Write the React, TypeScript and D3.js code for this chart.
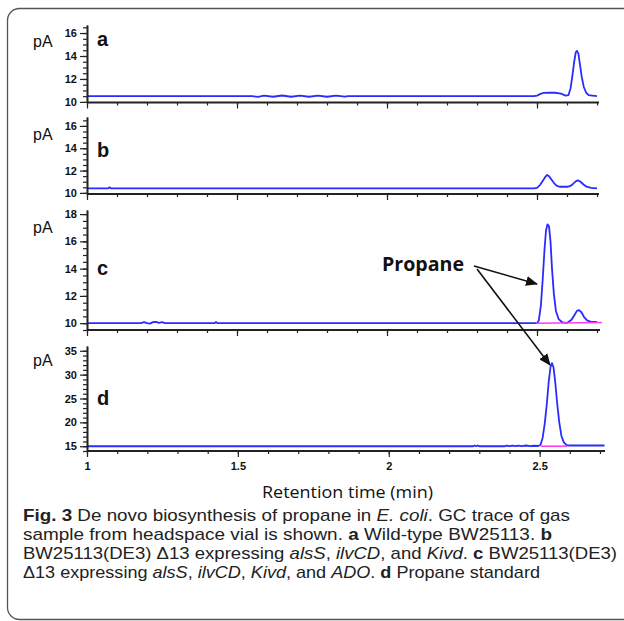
import React, { useRef, useEffect } from 'react';
import * as d3 from 'd3';

type Pt = [number, number];

// --------------------------------------------------------
// traces: [retention time (min), signal (pA)]
// --------------------------------------------------------
const traceA: Pt[] = [
  [1.0, 10.5], [1.55, 10.5], [1.57, 10.44], [1.59, 10.55], [1.62, 10.45], [1.65, 10.56],
  [1.68, 10.45], [1.71, 10.55], [1.74, 10.45], [1.77, 10.55], [1.8, 10.45], [1.83, 10.55],
  [1.86, 10.47], [1.87, 10.5], [2.49, 10.5], [2.5, 10.55], [2.51, 10.68], [2.52, 10.78],
  [2.54, 10.8], [2.56, 10.8], [2.58, 10.72], [2.595, 10.55], [2.605, 10.6], [2.612, 11.2],
  [2.618, 12.3], [2.624, 13.5], [2.629, 14.3], [2.633, 14.45], [2.638, 14.2], [2.643, 13.3],
  [2.649, 12.2], [2.656, 11.3], [2.664, 10.8], [2.672, 10.6], [2.685, 10.55], [2.7, 10.5]
];

const traceB: Pt[] = [
  [1.0, 10.4], [1.07, 10.4], [1.075, 10.5], [1.08, 10.4], [2.49, 10.4], [2.5, 10.45],
  [2.51, 10.7], [2.52, 11.1], [2.528, 11.45], [2.534, 11.6], [2.54, 11.5], [2.548, 11.2],
  [2.556, 10.9], [2.565, 10.65], [2.575, 10.55], [2.6, 10.55], [2.61, 10.6], [2.62, 10.8],
  [2.63, 11.05], [2.637, 11.12], [2.645, 11.0], [2.655, 10.75], [2.665, 10.55], [2.68, 10.45],
  [2.7, 10.4]
];

const traceC: Pt[] = [
  [1.0, 10.0], [1.18, 10.0], [1.19, 10.08], [1.2, 10.0], [1.21, 9.97], [1.22, 10.08],
  [1.23, 10.1], [1.24, 10.02], [1.25, 10.08], [1.26, 10.0], [1.425, 10.0], [1.43, 10.08],
  [1.435, 10.0], [2.5, 10.0], [2.506, 10.2], [2.513, 11.3], [2.519, 13.2], [2.525, 15.4],
  [2.53, 16.8], [2.535, 17.25], [2.54, 17.1], [2.545, 16.0], [2.55, 14.0], [2.556, 12.2],
  [2.563, 10.9], [2.572, 10.3], [2.585, 10.05], [2.6, 10.02], [2.615, 10.25], [2.625, 10.6],
  [2.633, 10.9], [2.64, 10.96], [2.648, 10.8], [2.657, 10.45], [2.667, 10.2], [2.68, 10.1],
  [2.7, 10.1]
];

const traceD: Pt[] = [
  [1.0, 15.0], [2.28, 15.0], [2.285, 15.15], [2.29, 15.0], [2.295, 15.15], [2.3, 15.0],
  [2.385, 15.0], [2.39, 15.15], [2.4, 15.0], [2.41, 15.15], [2.42, 15.0], [2.43, 15.15],
  [2.44, 15.0], [2.455, 15.15], [2.47, 15.0], [2.48, 15.1], [2.495, 15.05], [2.503, 15.3],
  [2.51, 16.8], [2.517, 19.8], [2.524, 24.0], [2.53, 28.5], [2.536, 31.6], [2.541, 32.4],
  [2.546, 31.5], [2.552, 28.2], [2.558, 24.0], [2.565, 20.0], [2.572, 17.2], [2.58, 15.8],
  [2.59, 15.2], [2.6, 15.15], [2.715, 15.15]
];

// magenta integration baselines under the propane peaks
const baselineC: Pt[] = [[2.497, 10.0], [2.717, 10.05]];
const baselineD: Pt[] = [[2.503, 15.0], [2.59, 15.0]];

const yTicksA = [10, 12, 14, 16];
const yTicksB = [10, 12, 14, 16];
const yTicksC = [10, 12, 14, 16, 18];
const yTicksD = [15, 20, 25, 30, 35];
const xTicks = [1, 1.5, 2, 2.5];
const xTickLabels = ['1', '1.5', '2', '2.5'];

// --------------------------------------------------------
// layout of the four stacked panels (pixel positions)
// --------------------------------------------------------
const panels = [
  { name: 'a', trace: traceA, base: null, yTicks: yTicksA, yStep: 0.5,
    yDomain: [9.95, 16.7], yRange: [102.5, 25], xEnd: 597, axisEnd: 599, pAy: 47, letterY: 46 },
  { name: 'b', trace: traceB, base: null, yTicks: yTicksB, yStep: 0.5,
    yDomain: [9.9, 16.8], yRange: [194, 117], xEnd: 597, axisEnd: 599, pAy: 140, letterY: 157 },
  { name: 'c', trace: traceC, base: baselineC, yTicks: yTicksC, yStep: 0.5,
    yDomain: [9.5, 18.3], yRange: [330, 210], xEnd: 597, axisEnd: 600, pAy: 233, letterY: 275 },
  { name: 'd', trace: traceD, base: baselineD, yTicks: yTicksD, yStep: 1,
    yDomain: [14, 36], yRange: [451, 346], xEnd: 600, axisEnd: 605, pAy: 366, letterY: 405 }
];

const AXIS = '#222';
const BLUE = '#2b2bff';
const PINK = '#ff3cf0';
const SANS = '"Liberation Sans", Arial, sans-serif';
const LABEL = '"Open Sans", "Noto Sans", sans-serif';

function Panel({ p, last }) {
  const yRef = useRef(null);
  const xRef = useRef(null);

  const x = d3.scaleLinear([1, 2.7], [87, p.xEnd]);
  const y = d3.scaleLinear(p.yDomain, p.yRange);
  const line = d3.line<Pt>().x(d => x(d[0])).y(d => y(d[1]));

  useEffect(() => {
    const minorY = d3.range(Math.ceil(p.yDomain[0] / p.yStep) * p.yStep, p.yDomain[1], p.yStep);
    const gy = d3.select(yRef.current);
    gy.selectAll('*').remove();
    gy.append('g')
      .call(d3.axisLeft(y).tickValues(minorY).tickSize(4).tickSizeOuter(0).tickFormat(() => ''));
    gy.append('g')
      .call(d3.axisLeft(y).tickValues(p.yTicks).tickSize(7).tickPadding(3).tickSizeOuter(0)
        .tickFormat(d3.format('d')));

    const gx = d3.select(xRef.current);
    gx.selectAll('*').remove();
    gx.append('g')
      .call(d3.axisBottom(x).tickValues(d3.range(1, 2.71, 0.1)).tickSize(3).tickFormat(() => ''));
    gx.append('g')
      .call(d3.axisBottom(x).tickValues(xTicks).tickSize(6).tickPadding(5)
        .tickFormat((d, i) => (last ? xTickLabels[i] : '')));
    gx.selectAll('.domain').remove();
    if (!last) gx.selectAll('.tick text').remove();

    [gy, gx].forEach(g => {
      g.selectAll('.domain').attr('stroke', AXIS).attr('stroke-width', 1.6);
      g.selectAll('.tick line').attr('stroke', AXIS).attr('stroke-width', 1.2);
      g.selectAll('.tick text')
        .attr('fill', '#111')
        .style('font-family', SANS)
        .style('font-size', '11px')
        .style('font-weight', 'bold');
    });
  });

  const y0 = p.yRange[0];
  return (
    <g>
      <path d={line(p.trace)} fill="none" stroke={BLUE} strokeWidth={1.8} strokeLinejoin="round" />
      {p.base && <path d={line(p.base)} fill="none" stroke={PINK} strokeWidth={1.6} />}
      <line x1={87} x2={p.axisEnd} y1={y0} y2={y0} stroke={AXIS} strokeWidth={1.8} />
      <g ref={yRef} transform="translate(87,0)" />
      <g ref={xRef} transform={`translate(0,${y0})`} />
      <text x={33} y={p.pAy} fontFamily={SANS} fontSize={16} fill="#111">pA</text>
      <text x={97} y={p.letterY} fontFamily={SANS} fontSize={20} fontWeight="bold" fill="#111">{p.name}</text>
    </g>
  );
}

export default function App() {
  return (
    <svg width={624} height={621} style={{ position: 'absolute', left: 0, top: 0, background: '#fff' }}>
      <defs>
        <marker id="arr" viewBox="0 0 12 10" refX="11" refY="5" markerWidth="12" markerHeight="10"
          markerUnits="userSpaceOnUse" orient="auto">
          <path d="M0,0 L12,5 L0,10 Z" fill="#111" />
        </marker>
      </defs>
      <rect x={7.5} y={8.5} width={630} height={611} rx={12} fill="none" stroke="#555" strokeWidth={1.3} />

      {panels.map((p, i) => <Panel key={p.name} p={p} last={i === panels.length - 1} />)}

      <text x={382} y={271} fontFamily={LABEL} fontSize={19} fontWeight="bold" fill="#111"
        textLength={82} lengthAdjust="spacingAndGlyphs">Propane</text>
      <line x1={474} y1={266} x2={537} y2={284} stroke="#111" strokeWidth={1.6} markerEnd="url(#arr)" />
      <line x1={477} y1={269} x2={550} y2={365} stroke="#111" strokeWidth={1.6} markerEnd="url(#arr)" />

      <text x={262} y={498} fontFamily={LABEL} fontSize={16} fill="#111"
        textLength={171} lengthAdjust="spacingAndGlyphs">Retention time (min)</text>

      <g fontFamily={SANS} fontSize={17} fill="#222">
        <text x={23} y={521} textLength={547} lengthAdjust="spacingAndGlyphs"><tspan fontWeight="bold">Fig. 3</tspan>  De novo biosynthesis of propane in <tspan fontStyle="italic">E. coli</tspan>. GC trace of gas</text>
        <text x={23} y={540} textLength={529} lengthAdjust="spacingAndGlyphs">sample from headspace vial is shown. <tspan fontWeight="bold">a</tspan> Wild-type BW25113. <tspan fontWeight="bold">b</tspan></text>
        <text x={23} y={559} textLength={594} lengthAdjust="spacingAndGlyphs">BW25113(DE3) Δ13 expressing <tspan fontStyle="italic">alsS</tspan>, <tspan fontStyle="italic">ilvCD</tspan>, and <tspan fontStyle="italic">Kivd</tspan>. <tspan fontWeight="bold">c</tspan> BW25113(DE3)</text>
        <text x={23} y={578} textLength={517} lengthAdjust="spacingAndGlyphs">Δ13 expressing <tspan fontStyle="italic">alsS</tspan>, <tspan fontStyle="italic">ilvCD</tspan>, <tspan fontStyle="italic">Kivd</tspan>, and <tspan fontStyle="italic">ADO</tspan>. <tspan fontWeight="bold">d</tspan> Propane standard</text>
      </g>
    </svg>
  );
}
